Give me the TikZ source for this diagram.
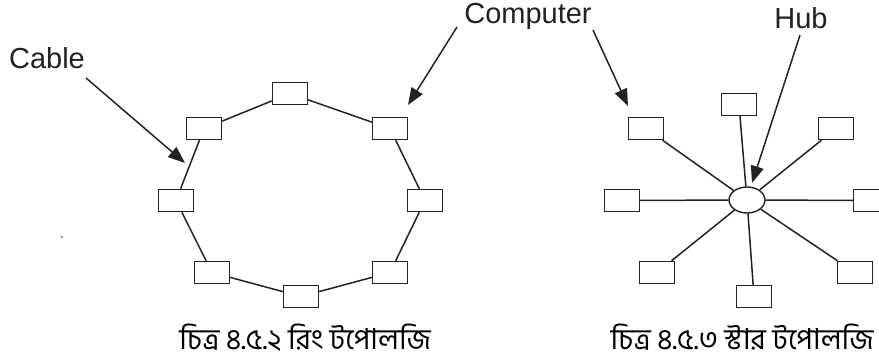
\documentclass[tikz,border=0pt]{standalone}
\usepackage{fontspec}
\setmainfont{Liberation Sans}
\newfontfamily\bnfont[Script=Bengali]{Hind Siliguri}
\usetikzlibrary{arrows.meta,shapes.geometric}
\definecolor{ink}{HTML}{222222}
\tikzset{
  pc/.style={draw=ink,line width=1.4pt,fill=white,rectangle,minimum width=35pt,minimum height=22pt,inner sep=0pt},
  hubnode/.style={draw=ink,line width=1.4pt,fill=white,ellipse,minimum width=36pt,minimum height=26pt,inner sep=0pt},
  wire/.style={draw=ink,line width=1.5pt},
  pointer/.style={draw=ink,line width=1.5pt,-{Triangle[length=17pt,width=13pt]}},
  lbl/.style={text=ink,font=\fontsize{29}{30}\selectfont,inner sep=0pt},
  figcaption/.style={text=black,font=\bnfont\fontsize{29}{31}\selectfont,inner sep=0pt,anchor=base,text depth=0pt,text height=22pt}
}
\begin{document}
\begin{tikzpicture}[x=1pt,y=-1pt]
\useasboundingbox (0,0) rectangle (879,362);
% ring topology
\node[pc] (rt)  at (290,93.5) {};
\node[pc] (rul) at (204,128.5) {};
\node[pc] (rur) at (390,128.5) {};
\node[pc] (rl)  at (176,200.5) {};
\node[pc] (rr)  at (425,200.5) {};
\node[pc] (rll) at (212,272.5) {};
\node[pc] (rb)  at (301,296.5) {};
\node[pc] (rlr) at (390,272.5) {};
\draw[wire] (rt) -- (rur);
\draw[wire] (rur) -- (rr);
\draw[wire] (rr) -- (rlr);
\draw[wire] (rlr) -- (rb);
\draw[wire] (rb) -- (rll);
\draw[wire] (rll) -- (rl);
\draw[wire] (rl) -- (rul);
\draw[wire] (rul) -- (rt);
% star topology
\node[hubnode] (hub) at (747,200) {};
\node[pc] (st)  at (739,104.5) {};
\node[pc] (sul) at (646,128.5) {};
\node[pc] (sur) at (836,128.5) {};
\node[pc] (sl)  at (622,200.5) {};
\node[pc] (sr)  at (871,200.5) {};
\node[pc] (sll) at (657,272.5) {};
\node[pc] (sb)  at (754,296.5) {};
\node[pc] (slr) at (855,272.5) {};
\foreach \n in {st,sul,sur,sl,sr,sll,sb,slr} \draw[wire] (hub) -- (\n);
% labels
\node[lbl] (cable) at (47,58) {Cable};
\node[lbl] (computer) at (528,16) {Computer};
\node[lbl] (hublbl) at (801,18) {Hub};
\coordinate (cableS) at (86,78);
\coordinate (cableT) at (185,163);
\coordinate (compS1) at (457,27);
\coordinate (compT1) at (408,105);
\coordinate (compS2) at (593,30);
\coordinate (compT2) at (628,106);
\coordinate (hubS) at (800,35);
\coordinate (hubT) at (752,183);
\draw[pointer] (cableS) -- (cableT);
\draw[pointer] (compS1) -- (compT1);
\draw[pointer] (compS2) -- (compT2);
\draw[pointer] (hubS) -- (hubT);
\fill[ink] (62,237) circle (0.8);
% captions
\node[figcaption] (cap1) at (305,349) {চিত্র ৪.৫.২ রিং টপোলজি};
\node[figcaption] (cap2) at (742,349) {চিত্র ৪.৫.৩ স্টার টপোলজি};
\end{tikzpicture}
\end{document}
